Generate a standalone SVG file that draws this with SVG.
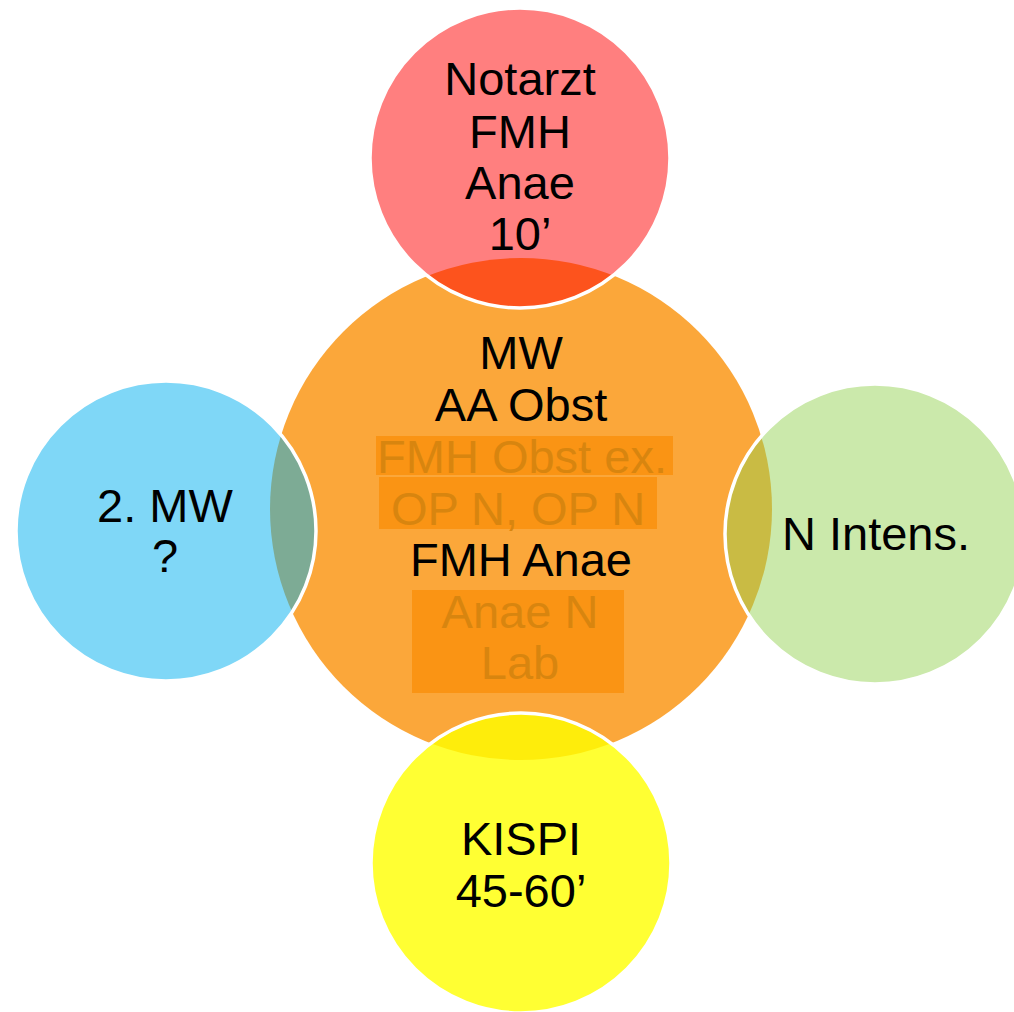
<svg xmlns="http://www.w3.org/2000/svg" width="1014" height="1012" viewBox="0 0 1014 1012">
<style>
.t{font-family:"Liberation Sans",Arial,sans-serif;font-size:47px;text-anchor:middle;fill:#000}
.dim{fill:#D8850F}
.hl{fill:#FA9414}
.sat{stroke:#fff;stroke-width:3.5}
</style>
<rect width="1014" height="1012" fill="#fff"/>
<g id="center">
<circle cx="521" cy="509" r="251" fill="#FBA73A"/>
<rect class="hl" x="376" y="436" width="297" height="39"/>
<rect class="hl" x="379" y="477" width="278" height="52"/>
<rect class="hl" x="412" y="590" width="212" height="103"/>
<text class="t" x="521" y="369">MW</text>
<text class="t" x="521" y="421">AA Obst</text>
<text class="t dim" x="522" y="473">FMH Obst ex.</text>
<text class="t dim" x="518" y="525">OP N, OP N</text>
<text class="t" x="521" y="576">FMH Anae</text>
<text class="t dim" x="520" y="628">Anae N</text>
<text class="t dim" x="520" y="679">Lab</text>
</g>
<g id="top">
<circle class="sat" cx="520" cy="158" r="150" fill="rgba(255,0,0,0.5)"/>
<text class="t" x="520" y="95">Notarzt</text>
<text class="t" x="520" y="148">FMH</text>
<text class="t" x="520" y="199">Anae</text>
<text class="t" x="520" y="250">10’</text>
</g>
<g id="left">
<circle class="sat" cx="166" cy="531" r="150" fill="rgba(0,176,240,0.5)"/>
<text class="t" x="165" y="522">2. MW</text>
<text class="t" x="165" y="572">?</text>
</g>
<g id="right">
<circle class="sat" cx="875" cy="534" r="150" fill="rgba(146,208,80,0.48)"/>
<text class="t" x="876" y="550">N Intens.</text>
</g>
<g id="bottom">
<circle class="sat" cx="521" cy="863" r="150" fill="rgba(255,255,0,0.8)"/>
<text class="t" x="521" y="855">KISPI</text>
<text class="t" x="521" y="907">45-60’</text>
</g>
</svg>
